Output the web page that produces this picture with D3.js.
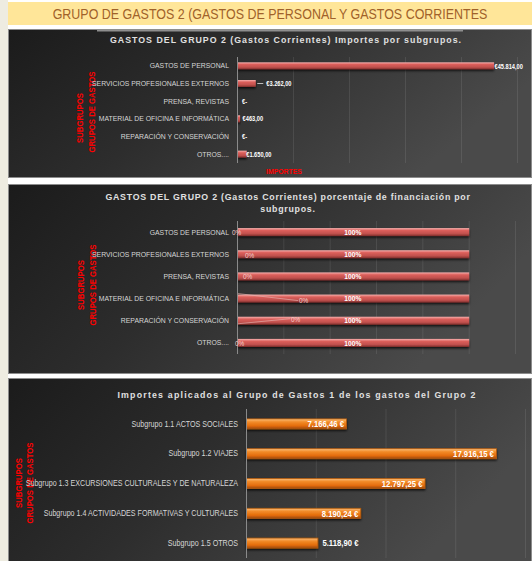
<!DOCTYPE html>
<html>
<head>
<meta charset="utf-8">
<script src="https://cdn.jsdelivr.net/npm/d3@7"></script>
<style>
body { margin: 0; background: #fff; }
svg { display: block; }
</style>
</head>
<body>
<svg id="chart" width="532" height="561"></svg>
<script>
var pageTitle = 'GRUPO DE GASTOS 2 (GASTOS DE PERSONAL Y GASTOS CORRIENTES';

// grafico 1 y 2: subgrupos del grupo 2
var gastosCategories = ['GASTOS DE PERSONAL', 'SERVICIOS PROFESIONALES EXTERNOS', 'PRENSA, REVISTAS',
    'MATERIAL DE OFICINA E INFORMÁTICA', 'REPARACIÓN Y CONSERVACIÓN', 'OTROS....'];
var gastosImportes = [45814, 3262, 0, 463, 0, 1650];
var importeTicks = [0, 10000, 20000, 30000, 40000, 50000];

var pctSinFinanciar = [0, 0, 0, 0, 0, 0];
var pctFinanciado = [100, 100, 100, 100, 100, 100];
var pctTicks = [0, 20, 40, 60, 80, 100, 120];

// grafico 3: grupo de gastos 1
var subgrupoCategories = ['Subgrupo 1.1 ACTOS SOCIALES', 'Subgrupo 1.2 VIAJES',
    'Subgrupo 1.3 EXCURSIONES CULTURALES Y DE NATURALEZA',
    'Subgrupo 1.4 ACTIVIDADES FORMATIVAS Y CULTURALES', 'Subgrupo 1.5 OTROS'];
var subgrupoImportes = [7166.46, 17916.15, 12797.25, 8190.24, 5118.90];
var subgrupoTicks = [0, 5000, 10000, 15000, 20000];

var es = d3.formatLocale({decimal: ',', thousands: '.', grouping: [3], currency: ['€', '']});
var fmtNum = es.format(',.2f');

var FONT = '"Liberation Sans", Arial, sans-serif';
var NARROW = 0.86; // la fuente original es mas estrecha (Calibri)
var svg = d3.select('#chart');
var defs = svg.append('defs');

// estrecha el texto horizontalmente manteniendo su punto de anclaje
function narrow(sel, k) {
    sel.each(function () {
        var t = d3.select(this);
        var x = +t.attr('x') || 0;
        t.attr('x', x / k).attr('transform', 'scale(' + k + ',1)');
    });
    return sel;
}

function addGradient(id, stops, x2, y2) {
    var g = defs.append('linearGradient').attr('id', id)
        .attr('x1', 0).attr('y1', 0).attr('x2', x2).attr('y2', y2);
    stops.forEach(function (s) {
        g.append('stop').attr('offset', s[0]).attr('stop-color', s[1]);
    });
}
addGradient('panel-bg', [[0, '#1b1b1b'], [0.45, '#2d2d2d'], [1, '#4a4a4a']], 1, 0.35);
addGradient('bar-red', [[0, '#f6b0ae'], [0.3, '#dc5f5b'], [0.7, '#c0504d'], [1, '#7d2d2b']], 0, 1);
addGradient('bar-orange', [[0, '#fbbf7c'], [0.3, '#f28c2a'], [0.7, '#e46c0a'], [1, '#9c4806']], 0, 1);

var shadow = defs.append('filter').attr('id', 'bar-shadow')
    .attr('x', '-5%').attr('y', '-50%').attr('width', '110%').attr('height', '220%');
shadow.append('feDropShadow').attr('dx', 0).attr('dy', 1.5).attr('stdDeviation', 0.8)
    .attr('flood-color', '#000').attr('flood-opacity', 0.8);

// fondo de pagina
svg.append('rect').attr('width', 532).attr('height', 561).attr('fill', '#fff');
svg.append('rect').attr('width', 8).attr('height', 561).attr('fill', '#eeece1');
svg.append('rect').attr('x', 8).attr('y', 2).attr('width', 524).attr('height', 23).attr('fill', '#ffe699');
narrow(svg.append('text')
    .attr('x', 270).attr('y', 19)
    .attr('text-anchor', 'middle')
    .attr('font-family', FONT)
    .attr('font-size', 14.5)
    .attr('fill', '#a0612a')
    .text(pageTitle), NARROW);

var Chart = {
    panel: function (box) {
        var g = svg.append('g');
        g.append('rect')
            .attr('x', box.x + 0.5).attr('y', box.y + 0.5)
            .attr('width', box.w).attr('height', box.h)
            .attr('fill', 'url(#panel-bg)')
            .attr('stroke', '#8c8c8c');
        return g;
    },

    title: function (g, lines, cx, y, spacing) {
        lines.forEach(function (line, i) {
            g.append('text')
                .attr('x', cx).attr('y', y + i * 12)
                .attr('text-anchor', 'middle')
                .attr('font-family', FONT)
                .attr('font-weight', 'bold')
                .attr('font-size', 8.8)
                .attr('letter-spacing', spacing)
                .attr('fill', '#e0e0e0')
                .text(line);
        });
    },

    yTitle: function (g, pos) {
        [['SUBGRUPOS', pos.x1, pos.c1], ['GRUPOS DE GASTOS', pos.x2, pos.c2]].forEach(function (t) {
            g.append('text')
                .attr('transform', 'translate(' + t[1] + ',' + t[2] + ') rotate(-90) scale(' + NARROW + ',1)')
                .attr('text-anchor', 'middle')
                .attr('dominant-baseline', 'central')
                .attr('font-family', FONT)
                .attr('font-weight', 'bold')
                .attr('font-size', 9)
                .attr('fill', '#ff0000')
                .text(t[0]);
        });
    },

    grid: function (g, x, y, ticks) {
        var r = y.range();
        g.append('g').selectAll('line')
            .data(ticks.slice(1))
            .enter().append('line')
            .attr('x1', function (d) { return x(d) + 0.5; })
            .attr('x2', function (d) { return x(d) + 0.5; })
            .attr('y1', r[0]).attr('y2', r[1])
            .attr('stroke', '#ffffff').attr('stroke-opacity', 0.09);
    },

    yAxis: function (g, x, y, fontSize) {
        var ax = g.append('g')
            .attr('transform', 'translate(' + x.range()[0] + ',0)')
            .call(d3.axisLeft(y).tickSize(0).tickPadding(8));
        ax.select('.domain').attr('stroke', '#8a8a8a').attr('d', 'M0.5,' + y.range()[0] + 'V' + y.range()[1]);
        narrow(ax.selectAll('text')
            .attr('font-family', FONT)
            .attr('font-size', fontSize)
            .attr('fill', '#d6d6d6'), NARROW);
    },

    bars: function (g, x, y, values, h, fill, stroke) {
        return g.append('g').selectAll('rect')
            .data(values)
            .enter().append('rect')
            .attr('x', x(0) + 0.5)
            .attr('y', function (d, i) { return y(y.domain()[i]) + y.bandwidth() / 2 - h / 2; })
            .attr('width', function (d) { return Math.max(0, x(d) - x(0)); })
            .attr('height', h)
            .attr('fill', fill)
            .attr('stroke', stroke || 'none')
            .attr('stroke-width', 0.8)
            .attr('filter', 'url(#bar-shadow)');
    }
};

// ---------- grafico 1: importes ----------
(function () {
    var g = Chart.panel({x: 8, y: 29, w: 523, h: 148});
    g.append('rect').attr('x', 97).attr('y', 29).attr('width', 366).attr('height', 2.5).attr('fill', '#8e8e8e');
    Chart.title(g, ['GASTOS DEL GRUPO 2 (Gastos Corrientes) Importes por subgrupos.'], 286, 43, 1.0);
    Chart.yTitle(g, {x1: 80, c1: 118, x2: 92, c2: 112});

    var x = d3.scaleLinear().domain([importeTicks[0], importeTicks[importeTicks.length - 1]]).range([237, 517]);
    var y = d3.scaleBand().domain(gastosCategories).range([57, 163]);
    Chart.grid(g, x, y, importeTicks);
    Chart.bars(g, x, y, gastosImportes, 7, 'url(#bar-red)');
    Chart.yAxis(g, x, y, 8);

    var labelDx = [1, 11, 5, 3, 5, 0];
    narrow(g.append('g').selectAll('text')
        .data(gastosImportes)
        .enter().append('text')
        .attr('x', function (d, i) { return x(d) + labelDx[i]; })
        .attr('y', function (d, i) { return y(gastosCategories[i]) + y.bandwidth() / 2; })
        .attr('dominant-baseline', 'central')
        .attr('font-family', FONT)
        .attr('font-weight', 'bold')
        .attr('font-size', 6.6)
        .attr('fill', '#ffffff')
        .text(function (d) { return d === 0 ? '€-' : '€' + fmtNum(d); }), NARROW);
    // linea guia de la etiqueta de servicios
    g.append('line')
        .attr('x1', x(gastosImportes[1]) + 2).attr('x2', x(gastosImportes[1]) + 8)
        .attr('y1', y(gastosCategories[1]) + y.bandwidth() / 2)
        .attr('y2', y(gastosCategories[1]) + y.bandwidth() / 2)
        .attr('stroke', '#bdbdbd');

    narrow(g.append('text')
        .attr('x', 284).attr('y', 174)
        .attr('text-anchor', 'middle')
        .attr('font-family', FONT)
        .attr('font-weight', 'bold')
        .attr('font-size', 8)
        .attr('fill', '#ff0000')
        .text('IMPORTES'), NARROW);
})();

// ---------- grafico 2: porcentajes ----------
(function () {
    var g = Chart.panel({x: 8, y: 184, w: 523, h: 189});
    Chart.title(g, ['GASTOS DEL GRUPO 2 (Gastos Corrientes) porcentaje de financiación por', 'subgrupos.'], 288, 200, 0.75);
    Chart.yTitle(g, {x1: 81, c1: 285, x2: 93, c2: 285});

    var x = d3.scaleLinear().domain([pctTicks[0], pctTicks[pctTicks.length - 1]]).range([237, 515]);
    var y = d3.scaleBand().domain(gastosCategories).range([221, 354]);
    Chart.grid(g, x, y, pctTicks);
    var stacked = pctFinanciado.map(function (d, i) { return d + pctSinFinanciar[i]; });
    Chart.bars(g, x, y, stacked, 8, 'url(#bar-red)');
    Chart.yAxis(g, x, y, 8);

    var cy = function (i) { return y(gastosCategories[i]) + y.bandwidth() / 2; };

    // etiquetas 0% con su desplazamiento
    var zeroPos = [[-5, 0], [8, 1], [6, 0], [62, 2], [54, -1], [-2, 0]];
    var leaders = [null, null, null, [-5, 2], [3, -2], null];
    leaders.forEach(function (l, i) {
        if (!l) return;
        g.append('line')
            .attr('x1', x(0) + 1).attr('y1', cy(i) + l[0])
            .attr('x2', x(pctSinFinanciar[i]) + zeroPos[i][0] - 1).attr('y2', cy(i) + l[1])
            .attr('stroke', '#e8b3b1').attr('stroke-opacity', 0.8).attr('stroke-width', 0.8);
    });
    narrow(g.append('g').selectAll('text')
        .data(pctSinFinanciar)
        .enter().append('text')
        .attr('x', function (d, i) { return x(d) + zeroPos[i][0]; })
        .attr('y', function (d, i) { return cy(i) + zeroPos[i][1]; })
        .attr('dominant-baseline', 'central')
        .attr('font-family', FONT)
        .attr('font-size', 7.5)
        .attr('fill', '#f4cfcd')
        .text(function (d) { return d + '%'; }), NARROW);

    narrow(g.append('g').selectAll('text')
        .data(pctFinanciado)
        .enter().append('text')
        .attr('x', function (d, i) { return x(pctSinFinanciar[i] + d / 2); })
        .attr('y', function (d, i) { return cy(i); })
        .attr('text-anchor', 'middle')
        .attr('dominant-baseline', 'central')
        .attr('font-family', FONT)
        .attr('font-weight', 'bold')
        .attr('font-size', 7.8)
        .attr('fill', '#ffffff')
        .text(function (d) { return d + '%'; }), NARROW);
})();

// ---------- grafico 3: grupo de gastos 1 ----------
(function () {
    var g = Chart.panel({x: 8, y: 378, w: 523, h: 190});
    Chart.title(g, ['Importes aplicados al Grupo de Gastos 1 de los gastos del Grupo 2'], 297, 398, 1.2);
    Chart.yTitle(g, {x1: 19, c1: 483, x2: 30, c2: 483});

    var x = d3.scaleLinear().domain([subgrupoTicks[0], subgrupoTicks[subgrupoTicks.length - 1]]).range([246, 525]);
    var y = d3.scaleBand().domain(subgrupoCategories).range([409, 558]);
    Chart.grid(g, x, y, subgrupoTicks);
    Chart.bars(g, x, y, subgrupoImportes, 10, 'url(#bar-orange)', '#b35a0c');
    Chart.yAxis(g, x, y, 8.3);

    narrow(g.append('g').selectAll('text')
        .data(subgrupoImportes)
        .enter().append('text')
        .attr('x', function (d) { return x(d) - x(0) > 90 ? x(d) - 2 : x(d) + 5; })
        .attr('y', function (d, i) { return y(subgrupoCategories[i]) + y.bandwidth() / 2; })
        .attr('text-anchor', function (d) { return x(d) - x(0) > 90 ? 'end' : 'start'; })
        .attr('dominant-baseline', 'central')
        .attr('font-family', FONT)
        .attr('font-weight', 'bold')
        .attr('font-size', 9)
        .attr('fill', '#ffffff')
        .text(function (d) { return fmtNum(d) + ' €'; }), NARROW);
})();
</script>
</body>
</html>
